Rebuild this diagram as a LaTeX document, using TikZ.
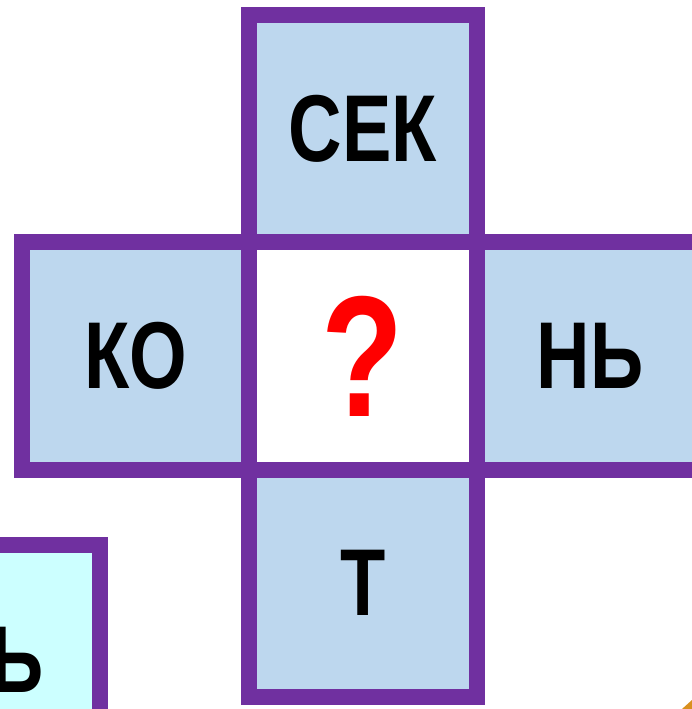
\documentclass[tikz,border=0pt]{standalone}
\usepackage{fontspec}
\usepackage{tikz}
\newfontfamily\cellfont{Liberation Sans}[FakeStretch=0.78]
\definecolor{frame}{HTML}{7030A0}
\definecolor{cellblue}{HTML}{BDD7EE}
\definecolor{cellcyan}{HTML}{CCFFFF}
\definecolor{corner}{HTML}{D9901F}

\begin{document}
\begin{tikzpicture}[x=0.01cm, y=0.01cm,
  cell/.style={draw=frame, line width=0.16cm, fill=cellblue, minimum size=2.27cm, inner sep=0pt,
    font=\cellfont\bfseries\fontsize{27}{27}\selectfont},
  blank/.style={cell, fill=white, text=red, font=\cellfont\bfseries\fontsize{49}{49}\selectfont}]
\useasboundingbox (0,0) rectangle (692,709);
\clip (0,0) rectangle (692,709);
% === Corner pieces ===
\fill[corner] (682,0) -- (692,0) -- (692,9) -- cycle;
\node[cell, fill=cellcyan] (rest) at (-14,50) {};
\node[anchor=base east, inner sep=0pt, font=\cellfont\bfseries\fontsize{27}{27}\selectfont] (restword) at (44,16) {Ь};
% === Cross ===
\node[cell] (top) at (363,580) {СЕК};
\node[cell] (left) at (136,353) {КО};
\node[cell] (right) at (590,353) {НЬ};
\node[cell] (bottom) at (363,126) {Т};
\node[blank] (middle) at (363,353) {?};
\end{tikzpicture}
\end{document}
